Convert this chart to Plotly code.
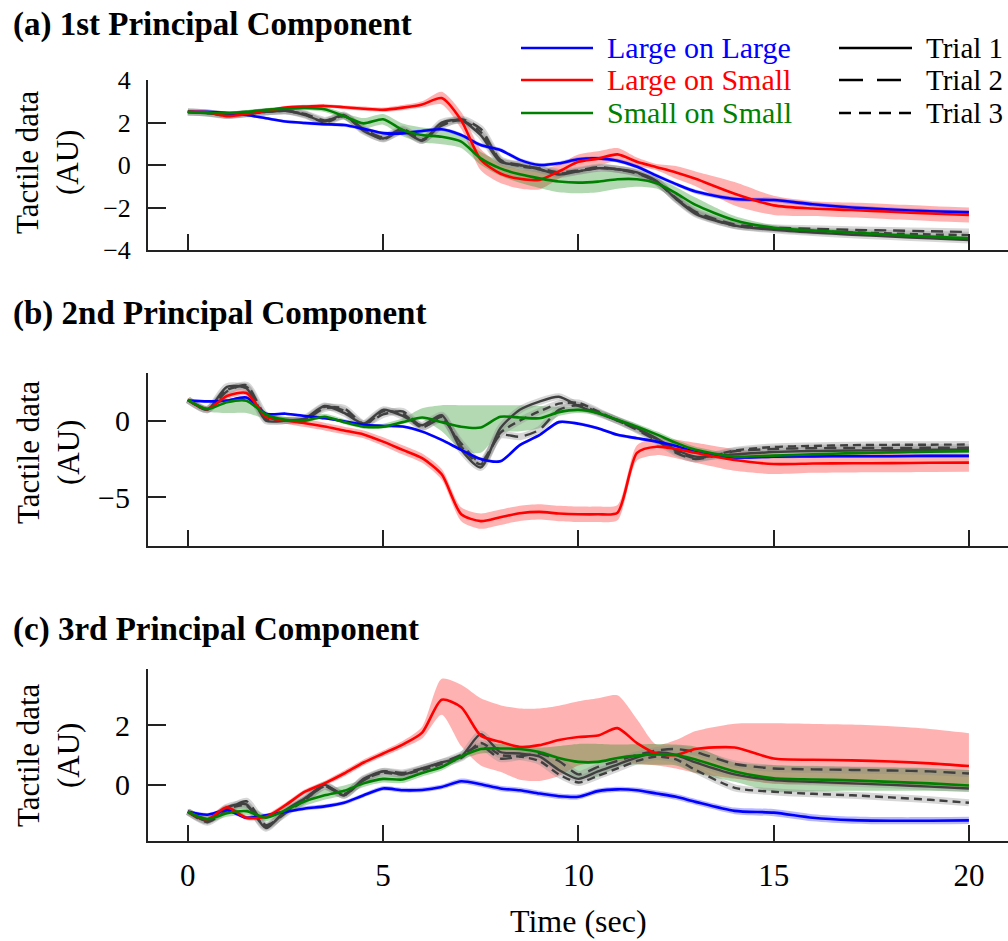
import plotly.graph_objects as go

# ---------------- data ----------------
T = [0, 0.5, 1, 1.5, 2, 2.5, 3, 3.5, 4, 4.5, 5, 5.5, 6, 6.5, 7, 7.5, 8, 8.5, 9, 9.5,
     10, 10.5, 11, 11.5, 12, 12.5, 13, 14, 15, 16, 17, 18, 19, 20]

X_TICKS = [0, 5, 10, 15, 20]
SERIES_NAMES = ["Large on Large", "Large on Small", "Small on Small"]
TRIAL_NAMES = ["Trial 1", "Trial 2", "Trial 3"]
PANEL_TITLES = ["(a) 1st Principal Component", "(b) 2nd Principal Component",
                "(c) 3rd Principal Component"]
Y_TICKS_A = [-4, -2, 0, 2, 4]
Y_TICKS_B = [-5, 0]
Y_TICKS_C = [0, 2]

# Panel (a)
A_BLUE = [2.5, 2.5, 2.45, 2.35, 2.2, 2.05, 1.98, 1.92, 1.88, 1.7, 1.5, 1.49, 1.6, 1.68, 1.41, 0.94, 0.71,
          0.24, 0.0, 0.08, 0.27, 0.31, 0.2, -0.08, -0.5, -0.9, -1.25, -1.6, -1.65, -1.85, -2.0, -2.1, -2.18, -2.23]
A_BLUE_HW = [0.05, 0.05, 0.06, 0.06, 0.07, 0.07, 0.08, 0.08, 0.08, 0.08, 0.08, 0.08, 0.08, 0.08, 0.09, 0.09, 0.09,
             0.09, 0.09, 0.09, 0.09, 0.09, 0.09, 0.09, 0.09, 0.09, 0.1, 0.1, 0.1, 0.1, 0.1, 0.1, 0.1, 0.1]
A_RED = [2.5, 2.48, 2.3, 2.4, 2.55, 2.7, 2.75, 2.78, 2.72, 2.65, 2.6, 2.7, 2.85, 3.15, 2.1, 0.25, -0.4,
         -0.65, -0.7, -0.3, 0.15, 0.3, 0.5, 0.15, -0.1, -0.35, -0.65, -1.35, -1.9, -2.05, -2.12, -2.2, -2.28, -2.35]
A_RED_HW = [0.08, 0.08, 0.1, 0.1, 0.08, 0.08, 0.08, 0.08, 0.08, 0.1, 0.1, 0.12, 0.15, 0.3, 0.4, 0.5, 0.45,
            0.45, 0.45, 0.35, 0.35, 0.35, 0.3, 0.2, 0.15, 0.3, 0.35, 0.55, 0.45, 0.35, 0.35, 0.35, 0.35, 0.35]
A_GREEN = [2.5, 2.45, 2.45, 2.5, 2.6, 2.65, 2.68, 2.62, 2.3, 1.96, 2.15, 1.65, 1.41, 1.33, 1.1, 0.31, -0.16,
           -0.44, -0.63, -0.78, -0.83, -0.78, -0.67, -0.67, -0.86, -1.33, -1.88, -2.6, -2.95, -3.08, -3.18, -3.28, -3.37, -3.45]
A_GREEN_HW = [0.08, 0.08, 0.08, 0.08, 0.08, 0.08, 0.1, 0.12, 0.15, 0.25, 0.25, 0.3, 0.35, 0.35, 0.3, 0.3, 0.35,
              0.4, 0.45, 0.5, 0.5, 0.5, 0.45, 0.35, 0.25, 0.3, 0.35, 0.2, 0.12, 0.1, 0.1, 0.1, 0.1, 0.1]
A_TRIAL1 = [2.5, 2.45, 2.35, 2.42, 2.5, 2.55, 2.35, 2.05, 2.35, 1.6, 1.25, 1.6, 1.15, 2.0, 2.1, 1.4, 0.15,
            0.0, -0.2, -0.45, -0.3, -0.15, -0.2, -0.35, -0.75, -1.6, -2.3, -2.85, -3.05, -3.18, -3.28, -3.37, -3.45, -3.53]
A_TRIAL2 = [2.5, 2.45, 2.35, 2.4, 2.5, 2.55, 2.4, 2.1, 2.3, 1.7, 1.3, 1.7, 1.2, 1.85, 2.15, 1.7, 0.25,
            0.0, -0.15, -0.35, -0.25, -0.1, -0.2, -0.4, -0.8, -1.55, -2.2, -2.8, -2.95, -3.0, -3.05, -3.08, -3.12, -3.15]
A_TRIAL3 = [2.5, 2.45, 2.33, 2.42, 2.5, 2.55, 2.38, 2.0, 2.3, 1.65, 1.22, 1.65, 1.15, 1.9, 2.1, 1.55, 0.2,
            -0.05, -0.2, -0.4, -0.3, -0.15, -0.2, -0.38, -0.78, -1.58, -2.25, -2.85, -3.0, -3.1, -3.17, -3.22, -3.27, -3.3]

# Panel (b)
B_BLUE = [1.3, 1.25, 1.3, 1.5, 0.45, 0.45, 0.3, 0.15, -0.05, -0.28, -0.35, -0.39, -0.72, -1.26, -1.91, -2.5, -2.65,
          -1.6, -0.95, -0.1, -0.2, -0.5, -0.93, -1.15, -1.37, -1.65, -2.05, -2.4, -2.35, -2.33, -2.32, -2.32, -2.3, -2.3]
B_BLUE_HW = [0.08, 0.08, 0.08, 0.08, 0.08, 0.08, 0.08, 0.08, 0.08, 0.08, 0.09, 0.09, 0.09, 0.1, 0.1, 0.1, 0.1,
             0.1, 0.1, 0.1, 0.1, 0.1, 0.1, 0.1, 0.1, 0.1, 0.1, 0.1, 0.1, 0.1, 0.1, 0.1, 0.1, 0.1]
B_RED = [1.35, 0.75, 1.6, 1.8, 0.26, 0.0, -0.17, -0.39, -0.65, -0.9, -1.37, -1.91, -2.45, -3.5, -6.1, -6.55, -6.3,
         -6.04, -5.95, -6.05, -6.1, -6.1, -6.0, -2.1, -1.7, -1.85, -2.1, -2.57, -2.83, -2.8, -2.78, -2.77, -2.75, -2.74]
B_RED_HW = [0.12, 0.15, 0.2, 0.2, 0.2, 0.2, 0.25, 0.25, 0.25, 0.25, 0.28, 0.3, 0.3, 0.35, 0.45, 0.5, 0.5,
            0.5, 0.5, 0.5, 0.5, 0.5, 0.5, 0.5, 0.55, 0.6, 0.65, 0.7, 0.65, 0.6, 0.6, 0.6, 0.6, 0.6]
B_GREEN = [1.35, 0.75, 1.2, 1.3, 0.4, 0.05, 0.0, 0.25, -0.1, -0.4, -0.4, -0.1, 0.2, -0.1, -0.4, -0.45, 0.25,
           0.2, 0.15, 0.55, 0.7, 0.5, 0.05, -0.4, -0.9, -1.45, -1.9, -2.35, -2.28, -2.2, -2.12, -2.07, -2.03, -2.0]
B_GREEN_DN = [0.1, 0.15, 0.7, 0.8, 0.3, 0.12, 0.12, 0.12, 0.12, 0.12, 0.12, 0.12, 0.15, 0.6, 1.5, 1.65, 1.05,
              0.9, 0.65, 0.25, 0.2, 0.15, 0.15, 0.15, 0.15, 0.15, 0.15, 0.15, 0.15, 0.15, 0.12, 0.12, 0.12, 0.12]
B_GREEN_UP = [0.1, 0.15, 0.2, 0.2, 0.2, 0.2, 0.2, 0.2, 0.2, 0.2, 0.2, 0.25, 0.6, 1.1, 1.4, 1.45, 0.75,
              0.8, 0.8, 0.35, 0.2, 0.2, 0.2, 0.2, 0.2, 0.2, 0.2, 0.2, 0.15, 0.15, 0.12, 0.12, 0.12, 0.12]
B_TRIAL1 = [1.35, 0.7, 2.2, 2.1, 0.0, 0.0, 0.15, 0.95, 0.5, -0.2, 0.7, 0.3, -0.3, 0.35, -1.9, -3.05, -0.5,
            0.7, 1.24, 1.55, 0.95, 0.48, 0.04, -0.5, -1.15, -1.9, -2.35, -2.2, -2.05, -1.98, -1.95, -1.93, -1.9, -1.88]
B_TRIAL2 = [1.35, 0.75, 1.9, 2.3, 0.3, 0.0, 0.05, 0.8, 0.8, -0.2, 0.4, 0.6, -0.4, 0.1, -1.5, -2.7, -0.95,
            -1.05, -0.6, 0.7, 1.0, 0.55, 0.0, -0.6, -1.3, -2.1, -2.5, -2.0, -1.85, -1.8, -1.78, -1.78, -1.77, -1.77]
B_TRIAL3 = [1.35, 0.7, 2.0, 2.2, 0.1, 0.0, 0.1, 0.9, 0.65, -0.3, 0.6, 0.45, -0.45, 0.25, -1.7, -2.85, -0.8,
            0.0, 0.6, 1.1, 1.15, 0.6, 0.0, -0.55, -1.2, -2.0, -2.45, -1.95, -1.72, -1.65, -1.6, -1.58, -1.57, -1.56]

# Panel (c)
C_BLUE = [-0.9, -1.0, -0.85, -1.1, -1.02, -0.9, -0.79, -0.72, -0.6, -0.35, -0.12, -0.18, -0.17, -0.07, 0.12, 0.02, -0.12,
          -0.18, -0.29, -0.38, -0.4, -0.21, -0.15, -0.18, -0.29, -0.4, -0.57, -0.87, -0.93, -1.1, -1.18, -1.2, -1.2, -1.19]
C_BLUE_HW = [0.06, 0.06, 0.06, 0.06, 0.06, 0.06, 0.07, 0.07, 0.07, 0.07, 0.08, 0.08, 0.08, 0.08, 0.09, 0.09, 0.09,
             0.09, 0.09, 0.09, 0.09, 0.09, 0.09, 0.09, 0.1, 0.1, 0.1, 0.11, 0.12, 0.12, 0.12, 0.12, 0.12, 0.12]
C_RED = [-0.9, -1.15, -0.75, -1.1, -1.07, -0.68, -0.23, 0.05, 0.38, 0.75, 1.05, 1.35, 1.75, 2.85, 2.6, 1.65, 1.44,
         1.27, 1.33, 1.5, 1.6, 1.65, 1.9, 1.4, 1.05, 1.0, 1.2, 1.25, 0.88, 0.84, 0.82, 0.78, 0.72, 0.63]
C_RED_UP = [0.08, 0.08, 0.08, 0.08, 0.08, 0.08, 0.08, 0.08, 0.1, 0.1, 0.1, 0.12, 0.2, 0.7, 0.75, 1.25, 1.23,
            1.29, 1.23, 1.15, 1.2, 1.25, 1.1, 0.8, 0.3, 0.5, 0.6, 0.8, 1.18, 1.2, 1.2, 1.18, 1.15, 1.1]
C_RED_DN = [0.08, 0.08, 0.08, 0.08, 0.08, 0.08, 0.08, 0.08, 0.1, 0.1, 0.1, 0.12, 0.2, 0.5, 1.3, 1.0, 1.0,
            1.1, 1.2, 1.2, 0.95, 0.9, 1.1, 0.7, 0.4, 0.45, 0.8, 1.04, 0.84, 0.82, 0.82, 0.8, 0.78, 0.75]
C_GREEN = [-0.9, -1.15, -0.95, -0.88, -1.1, -0.85, -0.55, -0.35, -0.2, 0.05, 0.2, 0.18, 0.4, 0.6, 0.95, 1.2, 1.22,
           1.2, 1.1, 0.9, 0.77, 0.77, 0.9, 0.98, 1.02, 1.0, 0.85, 0.45, 0.22, 0.18, 0.15, 0.1, 0.05, -0.02]
C_GREEN_UP = [0.1, 0.12, 0.18, 0.2, 0.12, 0.12, 0.18, 0.2, 0.18, 0.12, 0.12, 0.12, 0.12, 0.12, 0.12, 0.15, 0.15,
              0.12, 0.15, 0.4, 0.6, 0.6, 0.45, 0.38, 0.35, 0.35, 0.43, 0.3, 0.44, 0.44, 0.45, 0.47, 0.5, 0.52]
C_GREEN_DN = [0.1, 0.12, 0.12, 0.12, 0.12, 0.12, 0.15, 0.15, 0.15, 0.12, 0.12, 0.12, 0.12, 0.12, 0.12, 0.15, 0.15,
              0.15, 0.2, 0.45, 0.52, 0.5, 0.3, 0.3, 0.35, 0.35, 0.45, 0.35, 0.45, 0.4, 0.35, 0.3, 0.25, 0.21]
C_TRIAL1 = [-0.9, -1.2, -0.75, -0.65, -1.45, -0.85, -0.45, 0.0, -0.35, 0.2, 0.45, 0.35, 0.55, 0.75, 0.95, 1.7, 1.1,
            1.05, 0.95, 0.5, 0.2, 0.45, 0.68, 0.92, 1.08, 1.0, 0.75, 0.35, 0.16, 0.1, 0.05, 0.0, -0.06, -0.12]
C_TRIAL2 = [-0.9, -1.25, -0.85, -0.55, -1.35, -0.95, -0.5, -0.05, -0.3, 0.15, 0.45, 0.4, 0.55, 0.75, 1.0, 1.3, 0.88,
            0.95, 1.05, 0.8, 0.35, 0.6, 0.8, 1.0, 1.15, 1.2, 1.1, 0.7, 0.55, 0.52, 0.5, 0.48, 0.45, 0.38]
C_TRIAL3 = [-0.9, -1.2, -0.8, -0.7, -1.4, -0.9, -0.5, -0.05, -0.35, 0.18, 0.4, 0.35, 0.5, 0.7, 0.9, 1.4, 1.0,
            0.95, 0.8, 0.35, 0.08, 0.3, 0.55, 0.8, 0.95, 0.85, 0.5, -0.1, -0.23, -0.3, -0.35, -0.42, -0.5, -0.6]

# ---------------- styling ----------------
W, H = 1008, 941
FONT = "Liberation Serif, Times New Roman, serif"
BLUE, RED, GREEN = "#0000ff", "#ff0000", "#008000"
BLUE_F, RED_F, GREEN_F = "rgba(0,0,255,0.28)", "rgba(255,0,0,0.3)", "rgba(0,128,0,0.3)"
TRIAL_C = "#404040"
HALO_C = "rgba(140,140,140,0.35)"
DASHES = ["solid", "12px,7px", "8px,5px"]
LEG_DASHES = ["solid", "24px,14px", "12px,8px"]
SMOOTH = 0.7


def py2paper(py):
    return 1 - py / H


fig = go.Figure()


def add_band(ax, mean, dn, up, fillcolor):
    xa, ya = ax
    lo = [m - d for m, d in zip(mean, dn)]
    hi = [m + u for m, u in zip(mean, up)]
    fig.add_trace(go.Scatter(x=T, y=lo, mode="lines", line=dict(width=0, shape="spline", smoothing=SMOOTH),
                             xaxis=xa, yaxis=ya, showlegend=False, hoverinfo="skip"))
    fig.add_trace(go.Scatter(x=T, y=hi, mode="lines", line=dict(width=0, shape="spline", smoothing=SMOOTH),
                             fill="tonexty", fillcolor=fillcolor,
                             xaxis=xa, yaxis=ya, showlegend=False, hoverinfo="skip"))


def add_line(ax, y, color, width=2.6, dash="solid", name=None):
    xa, ya = ax
    fig.add_trace(go.Scatter(x=T, y=y, mode="lines", name=name,
                             line=dict(color=color, width=width, dash=dash, shape="spline", smoothing=SMOOTH),
                             xaxis=xa, yaxis=ya, showlegend=False))


panels = [
    (("x", "y"), A_BLUE, A_BLUE_HW, A_BLUE_HW, A_RED, A_RED_HW, A_RED_HW, A_GREEN, A_GREEN_HW, A_GREEN_HW,
     [A_TRIAL1, A_TRIAL2, A_TRIAL3]),
    (("x2", "y2"), B_BLUE, B_BLUE_HW, B_BLUE_HW, B_RED, B_RED_HW, B_RED_HW, B_GREEN, B_GREEN_DN, B_GREEN_UP,
     [B_TRIAL1, B_TRIAL2, B_TRIAL3]),
    (("x3", "y3"), C_BLUE, C_BLUE_HW, C_BLUE_HW, C_RED, C_RED_DN, C_RED_UP, C_GREEN, C_GREEN_DN, C_GREEN_UP,
     [C_TRIAL1, C_TRIAL2, C_TRIAL3]),
]

for ax, bl, bl_dn, bl_up, rd, rd_dn, rd_up, gr, gr_dn, gr_up, trials in panels:
    add_band(ax, rd, rd_dn, rd_up, RED_F)
    add_band(ax, gr, gr_dn, gr_up, GREEN_F)
    add_band(ax, bl, bl_dn, bl_up, BLUE_F)
    for tr in trials:
        add_line(ax, tr, HALO_C, width=7)
    for tr, dash, nm in zip(trials, DASHES, TRIAL_NAMES):
        add_line(ax, tr, TRIAL_C, width=2.4, dash=dash, name=nm)
    add_line(ax, bl, BLUE, name=SERIES_NAMES[0])
    add_line(ax, rd, RED, name=SERIES_NAMES[1])
    add_line(ax, gr, GREEN, name=SERIES_NAMES[2])

x_dom = [148 / W, 1.0]
common_x = dict(domain=x_dom, range=[-1.02, 21.0], tickvals=X_TICKS, ticks="inside", ticklen=16, tickwidth=1.5,
                tickcolor="#222", showline=True, linecolor="#222", linewidth=2, showgrid=False, zeroline=False,
                automargin=False)
common_y = dict(ticks="inside", ticklen=18, tickwidth=1.5, tickcolor="#222", showline=True, linecolor="#222",
                linewidth=2, showgrid=False, zeroline=False, ticklabelstandoff=10, automargin=False)

fig.update_layout(
    template="none",
    width=W, height=H, margin=dict(l=0, r=0, t=0, b=0, pad=0, autoexpand=False), autosize=False,
    paper_bgcolor="white", plot_bgcolor="white", showlegend=False,
    font=dict(family=FONT, color="black"),
    xaxis=dict(common_x, anchor="y", showticklabels=False),
    xaxis2=dict(common_x, anchor="y2", showticklabels=False),
    xaxis3=dict(common_x, anchor="y3", showticklabels=True, tickfont=dict(size=31, family=FONT),
                ticklabelstandoff=6),
    yaxis=dict(common_y, anchor="x", domain=[py2paper(250), py2paper(80)], range=[-4.0, 4.0],
               tickvals=Y_TICKS_A, tickfont=dict(size=26, family=FONT)),
    yaxis2=dict(common_y, anchor="x2", domain=[py2paper(546), py2paper(373)], range=[-8.17, 3.1],
                tickvals=Y_TICKS_B, tickfont=dict(size=30, family=FONT)),
    yaxis3=dict(common_y, anchor="x3", domain=[py2paper(841), py2paper(669)], range=[-1.88, 3.88],
                tickvals=Y_TICKS_C, tickfont=dict(size=30, family=FONT)),
)

annotations = []
shapes = []
# panel titles
for title, yc in zip(PANEL_TITLES, [25, 313, 629]):
    annotations.append(dict(text="<b>" + title + "</b>", x=11 / W, y=py2paper(yc), xref="paper", yref="paper",
                            xanchor="left", yanchor="middle", showarrow=False,
                            font=dict(size=33, family=FONT, color="black")))
# y axis titles
for yc in [162, 452, 755]:
    annotations.append(dict(text="Tactile data<br>(AU)", x=48 / W, y=py2paper(yc), xref="paper", yref="paper",
                            xanchor="center", yanchor="middle", textangle=-90, showarrow=False,
                            font=dict(size=31, family=FONT, color="black")))
# x axis title
annotations.append(dict(text="Time (sec)", x=578 / W, y=py2paper(921), xref="paper", yref="paper",
                        xanchor="center", yanchor="middle", showarrow=False,
                        font=dict(size=32, family=FONT, color="black")))

# legend (drawn as shapes + text)
for name, col, yc in zip(SERIES_NAMES, [BLUE, RED, GREEN], [48, 80, 113]):
    shapes.append(dict(type="line", xref="paper", yref="paper", x0=521 / W, x1=593 / W,
                       y0=py2paper(yc), y1=py2paper(yc), line=dict(color=col, width=2.6)))
    annotations.append(dict(text=name, x=605 / W, y=py2paper(yc), xref="paper", yref="paper",
                            xanchor="left", yanchor="middle", showarrow=False,
                            font=dict(size=30, family=FONT, color=col)))
for name, dash, yc in zip(TRIAL_NAMES, LEG_DASHES, [48, 80, 113]):
    shapes.append(dict(type="line", xref="paper", yref="paper", x0=839 / W, x1=912 / W,
                       y0=py2paper(yc), y1=py2paper(yc), line=dict(color="black", width=2.6, dash=dash)))
    annotations.append(dict(text=name, x=924 / W, y=py2paper(yc), xref="paper", yref="paper",
                            xanchor="left", yanchor="middle", showarrow=False,
                            font=dict(size=29, family=FONT, color="black")))

fig.update_layout(annotations=annotations, shapes=shapes)

fig.write_html("out.html", config={"responsive": False, "displayModeBar": False},
               post_script="document.body.style.margin='0';document.body.style.overflow='hidden';")
